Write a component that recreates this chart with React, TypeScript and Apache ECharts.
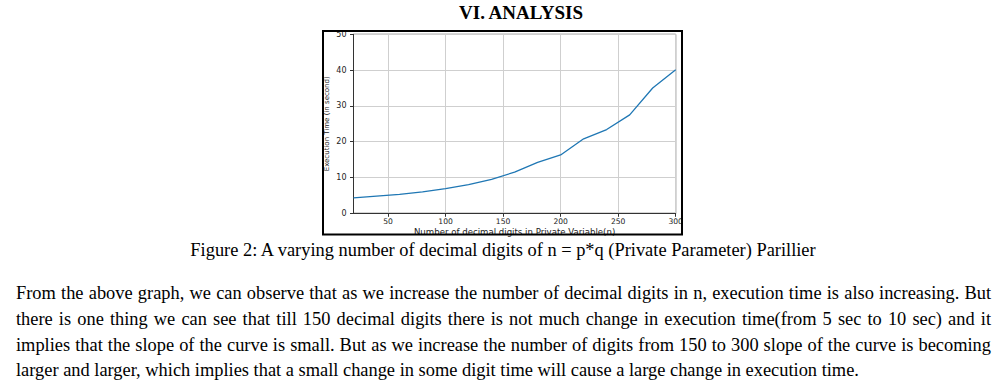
import React, { useEffect, useRef } from "react";
import * as echarts from "echarts";

const digitCounts = [20, 40, 60, 80, 100, 120, 140, 160, 180, 200, 220, 240, 260, 280, 300];
const execTimes = [4.3, 4.8, 5.3, 6.0, 6.9, 8.0, 9.5, 11.5, 14.2, 16.3, 20.8, 23.4, 27.5, 35.0, 40.1];
const xTickValues = [50, 100, 150, 200, 250, 300];

const headingText = "VI. ANALYSIS";
const captionText = "Figure 2: A varying number of decimal digits of n = p*q (Private Parameter) Parillier";
const xAxisName = "Number of decimal digits in Private Variable(n)";
const yAxisName = "Execution Time (in second)";
const paragraphLines = [
  "From the above graph, we can observe that as we increase the number of decimal digits in n, execution time is also increasing. But",
  "there is one thing we can see that till 150 decimal digits there is not much change in execution time(from 5 sec to 10 sec) and it",
  "implies that the slope of the curve is small. But as we increase the number of digits from 150 to 300 slope of the curve is becoming",
  "larger and larger, which implies that a small change in some digit time will cause a large change in execution time.",
];

const SERIF = "'Liberation Serif', 'Times New Roman', serif";
const SANS = "'DejaVu Sans', sans-serif";

export default function App() {
  const ref = useRef<HTMLDivElement>(null);

  useEffect(() => {
    if (!ref.current) return;
    const chart = echarts.init(ref.current, null, { renderer: "svg" });
    const seriesData = digitCounts.map((d, i) => [d, execTimes[i]]);
    chart.setOption({
      animation: false,
      backgroundColor: "#ffffff",
      grid: {
        left: 353.5,
        right: 330.3,
        top: 34.3,
        bottom: 175.7,
        show: true,
        borderColor: "#333333",
        borderWidth: 1,
        backgroundColor: "transparent",
      },
      xAxis: {
        type: "value",
        min: 20,
        max: 300,
        name: xAxisName,
        nameLocation: "middle",
        nameGap: 14,
        nameMoveOverlap: false,
        nameTextStyle: { fontFamily: SANS, fontSize: 8.6, color: "#222" },
        axisLine: { show: true, lineStyle: { color: "#333", width: 1 } },
        axisTick: { show: true, length: 3.5, customValues: xTickValues, lineStyle: { color: "#333" } },
        axisLabel: { customValues: xTickValues, margin: 3.8, fontFamily: SANS, fontSize: 7.6, color: "#222" },
        splitLine: { show: true, lineStyle: { color: "#cfcfcf", width: 1 } },
      },
      yAxis: {
        type: "value",
        min: 0,
        max: 50,
        interval: 10,
        name: yAxisName,
        nameLocation: "middle",
        nameRotate: 90,
        nameGap: 23,
        nameMoveOverlap: false,
        nameTextStyle: { fontFamily: SANS, fontSize: 7, color: "#222" },
        axisLine: { show: true, lineStyle: { color: "#333", width: 1 } },
        axisTick: { show: true, length: 3.5, lineStyle: { color: "#333" } },
        axisLabel: { margin: 7, fontFamily: SANS, fontSize: 8, color: "#222" },
        splitLine: { show: true, lineStyle: { color: "#cfcfcf", width: 1 } },
      },
      series: [
        {
          type: "line",
          data: seriesData,
          showSymbol: false,
          symbol: "none",
          lineStyle: { color: "#1f77b4", width: 1.3 },
          z: 5,
        },
      ],
      graphic: [
        {
          type: "rect",
          shape: { x: 323, y: 31, width: 359, height: 203.5 },
          style: { fill: "none", stroke: "#000", lineWidth: 2 },
          z: 10,
        },
        {
          type: "text",
          x: 521,
          y: 12,
          style: {
            text: headingText,
            font: `bold 19px ${SERIF}`,
            fill: "#000",
            align: "center",
            verticalAlign: "middle",
          },
        },
        {
          type: "text",
          x: 503,
          y: 250,
          style: {
            text: captionText,
            font: `18.4px ${SERIF}`,
            fill: "#000",
            align: "center",
            verticalAlign: "middle",
          },
        },
      ],
    });
    return () => chart.dispose();
  }, []);

  return (
    <div
      style={{
        position: "absolute",
        left: 0,
        top: 0,
        width: 1006,
        height: 389,
        background: "#fff",
        overflow: "hidden",
      }}
    >
      <div ref={ref} style={{ position: "absolute", left: 0, top: 0, width: 1006, height: 389 }} />
      <div
        style={{
          position: "absolute",
          left: 16,
          top: 281,
          width: 975,
          fontFamily: SERIF,
          fontSize: 18.4,
          color: "#000",
        }}
      >
        {paragraphLines.map((line, i) => (
          <div
            key={i}
            style={{
              height: 25.8,
              lineHeight: "25.8px",
              whiteSpace: "nowrap",
              textAlign: i < paragraphLines.length - 1 ? "justify" : "left",
              textAlignLast: i < paragraphLines.length - 1 ? "justify" : "left",
            }}
          >
            {line}
          </div>
        ))}
      </div>
    </div>
  );
}
